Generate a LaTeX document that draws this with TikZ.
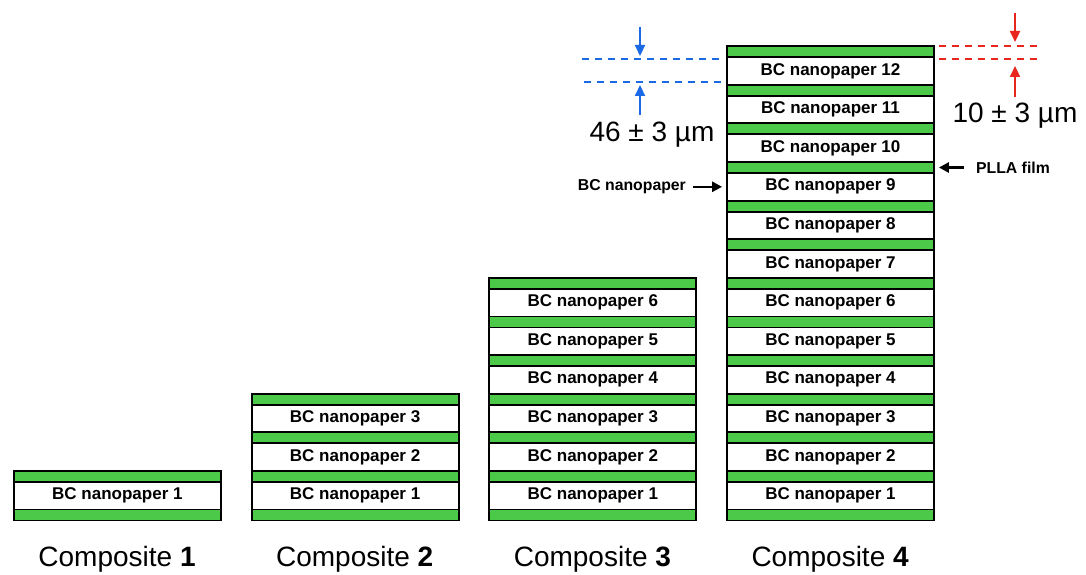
\documentclass[tikz,border=0pt]{standalone}
\usepackage{fontspec}
\setmainfont{Liberation Sans}
\usepackage{tikz}
\usetikzlibrary{arrows.meta,positioning,calc}
\definecolor{pllagreen}{RGB}{76, 201, 72}
\definecolor{dimblue}{RGB}{27, 105, 228}
\definecolor{dimred}{RGB}{232, 38, 30}
\tikzset{
    sheet/.style={draw=black, line width=1.8pt, inner sep=0pt, minimum width=207pt, anchor=north west},
    pllafilm/.style={sheet, fill=pllagreen, minimum height=11pt},
    bcpaper/.style={sheet, fill=white, minimum height=27.6pt, font=\fontsize{17}{19}\selectfont\bfseries},
    dimline/.style={line width=2.6pt, dash pattern=on 7pt off 6pt},
    dimarrow/.style={line width=2.2pt, -{Triangle[length=11pt,width=10pt]}},
    pointer/.style={line width=2.5pt, -{Triangle[length=10pt,width=10pt]}},
    complabel/.style={font=\fontsize{28}{32}\selectfont, anchor=base},
    smalllabel/.style={font=\fontsize{15.8}{18}\selectfont\bfseries, inner sep=3pt},
}

\begin{document}
\begin{tikzpicture}[x=1pt,y=-1pt]
    \useasboundingbox (0,0) rectangle (1086,575);

    % stacks of PLLA films and BC nanopapers
    \foreach \c/\n in {1/1,2/3,3/6,4/12} {
        \pgfmathsetmacro{\xl}{13+237.7*(\c-1)}
        \foreach \k in {0,...,\n}
            \node[pllafilm] (g\c-\k) at (\xl, 508.5-\k*38.6) {};
        \foreach \k in {1,...,\n}
            \node[bcpaper] (p\c-\k) at (\xl, 519.5-\k*38.6) {BC nanopaper \k};
        \node[complabel] (comp\c) at (\xl+104, 566) {Composite \textbf{\c}};
    }

    % nanopaper thickness
    \coordinate (bl1) at (582,59);
    \coordinate (bl2) at (584,82);
    \coordinate (bdt) at (640,27);
    \coordinate (but) at (640,115);
    \draw[dimline,dimblue,shorten >=3pt] (bl1) -- (bl1 -| p4-12.west);
    \draw[dimline,dimblue,shorten >=2pt] (bl2) -- (bl2 -| p4-12.west);
    \draw[dimarrow,dimblue,shorten >=3pt] (bdt) -- (bdt |- bl1);
    \draw[dimarrow,dimblue,shorten >=3pt] (but) -- (but |- bl2);
    \node[complabel] (bthick) at (652,141) {46 ± 3 µm};

    % film thickness
    \coordinate (rl1) at (1042,46);
    \coordinate (rl2) at (1042,59);
    \coordinate (rdt) at (1015,13);
    \coordinate (rut) at (1015,97);
    \draw[dimline,dimred,shorten <=4pt] (g4-12.east |- rl1) -- (rl1);
    \draw[dimline,dimred,shorten <=4pt] (g4-12.east |- rl2) -- (rl2);
    \draw[dimarrow,dimred,shorten >=4pt] (rdt) -- (rdt |- rl1);
    \draw[dimarrow,dimred,shorten >=7pt] (rut) -- (rut |- rl2);
    \node[complabel] (fthick) at (1015,123) {10 ± 3 µm};

    % layer names
    \node[smalllabel,anchor=east] (bclabel) at ([xshift=-37pt]p4-9.west) {BC nanopaper};
    \draw[pointer,shorten <=4pt,shorten >=4pt] (bclabel.east) -- (p4-9.west);
    \node[smalllabel,anchor=west] (pllalabel) at ([xshift=38pt]g4-9.east) {PLLA film};
    \draw[pointer,shorten <=9pt,shorten >=4pt] (pllalabel.west) -- (g4-9.east);
\end{tikzpicture}
\end{document}
